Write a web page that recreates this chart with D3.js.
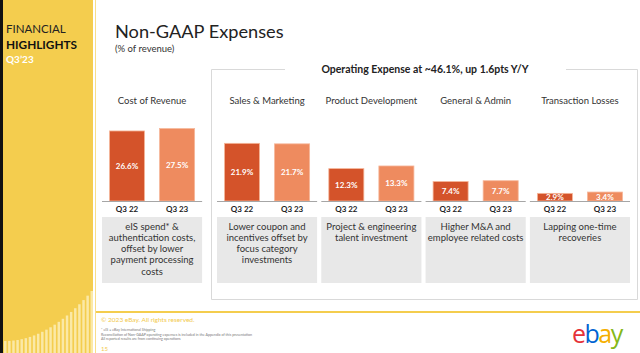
<!DOCTYPE html>
<html>
<head>
<meta charset="utf-8">
<script src="https://cdn.jsdelivr.net/npm/d3@7"></script>
<style>
  html, body { margin: 0; padding: 0; background: #fff; }
  svg { display: block; font-family: Lato, "Open Sans", sans-serif; }
</style>
</head>
<body>
<div class="chart-container"></div>
<script>
const width = 640, height = 353;

// data
const categories = ["Cost of Revenue", "Sales & Marketing", "Product Development", "General & Admin", "Transaction Losses"];
const periods = ["Q3 22", "Q3 23"];
const q322 = [26.6, 21.9, 12.3, 7.4, 2.9];
const q323 = [27.5, 21.7, 13.3, 7.7, 3.4];
const notes = [
    ["eIS spend* &", "authentication costs,", "offset by lower", "payment processing", "costs"],
    ["Lower coupon and", "incentives offset by", "focus category", "investments"],
    ["Project & engineering", "talent investment"],
    ["Higher M&A and", "employee related costs"],
    ["Lapping one-time", "recoveries"]
];
const footnotes = [
    "* eIS = eBay International Shipping",
    "Reconciliation of Non-GAAP operating expenses is included in the Appendix of this presentation",
    "All reported results are from continuing operations"
];

const colors = {"Q3 22": "#d4532a", "Q3 23": "#ee8b5f"};
const yellow = "#f4cd4e";

var svg = d3.select(".chart-container")
    .append("svg")
    .attr("width", width)
    .attr("height", height);

// ---- left sidebar
svg.append("rect").attr("x", 0).attr("y", 0).attr("width", 3).attr("height", height).attr("fill", "#111");
svg.append("rect").attr("x", 3).attr("y", 0).attr("width", 90).attr("height", height).attr("fill", yellow);
svg.append("line").attr("x1", 95.5).attr("x2", 95.5).attr("y1", 0).attr("y2", height)
    .attr("stroke", "#f8de8a").attr("stroke-width", 1);

// decorative stripes at the bottom of the sidebar
var stripes = d3.range(22);
var stripeX = d3.scaleBand().domain(stripes).range([4, 93]).paddingInner(0.4);
var stripeH = d3.scalePow().exponent(2).domain([0, 21]).range([12, 62]);
svg.append("g").selectAll("rect")
    .data(stripes)
    .enter()
    .append("rect")
    .attr("x", d => stripeX(d))
    .attr("width", stripeX.bandwidth())
    .attr("y", d => height - stripeH(d))
    .attr("height", d => stripeH(d))
    .attr("fill", "#fbe9a6");

svg.append("text").attr("x", 6).attr("y", 33).text("FINANCIAL")
    .attr("font-size", 11.5).attr("fill", "#222");
svg.append("text").attr("x", 6).attr("y", 49).text("HIGHLIGHTS")
    .attr("font-size", 11.8).attr("font-weight", "bold").attr("fill", "#111");
svg.append("text").attr("x", 6).attr("y", 63).text("Q3\u201923")
    .attr("font-size", 10).attr("font-weight", "bold").attr("fill", "#fff");

// ---- titles
svg.append("text").attr("x", 115).attr("y", 38).text("Non-GAAP Expenses")
    .attr("font-size", 18.2).attr("fill", "#222");
svg.append("text").attr("x", 115).attr("y", 52).text("(% of revenue)")
    .attr("font-size", 9.5).attr("fill", "#333");

// ---- operating expense frame
var frame = {x0: 211, x1: 637, y0: 69, y1: 299};
var frameG = svg.append("g").attr("fill", "none").attr("stroke", "#d9d9d9").attr("stroke-width", 1);
frameG.append("path")
    .attr("d", `M285,${frame.y0 + .5} H${frame.x0 + .5} V${frame.y1 + .5} H${frame.x1 + .5} V${frame.y0 + .5} H566`);
svg.append("text").attr("x", 425).attr("y", 73).attr("text-anchor", "middle")
    .text("Operating Expense at ~46.1%, up 1.6pts Y/Y")
    .attr("font-size", 10.5).attr("font-weight", "bold").attr("fill", "#222");

// ---- group positions: cost of revenue on its own, opex groups share a band scale
var opex = d3.scaleBand().domain(categories.slice(1)).range([217, 630]).paddingInner(0.04);
var groupW = opex.bandwidth();
function groupX(c) {
    return c === categories[0] ? 102 : opex(c);
}

var inner = d3.scaleBand().domain(periods).range([0, groupW]).paddingInner(0.3).paddingOuter(0.15);
var baseY = 201;
var y = d3.scaleLinear().domain([0, 30]).range([baseY, baseY - 79]);

var rows = categories.map((c, i) => ({cat: c, vals: [q322[i], q323[i]], note: notes[i]}));

var groups = svg.append("g").selectAll("g")
    .data(rows)
    .enter()
    .append("g")
    .attr("transform", d => "translate(" + groupX(d.cat) + ",0)");

groups.append("text")
    .attr("x", groupW / 2).attr("y", 104)
    .attr("text-anchor", "middle")
    .attr("font-size", 9.5).attr("fill", "#333")
    .text(d => d.cat);

var bars = groups.selectAll("g.bar")
    .data(d => d.vals.map((v, j) => ({period: periods[j], value: v})))
    .enter()
    .append("g").attr("class", "bar");

bars.append("rect")
    .attr("x", d => inner(d.period))
    .attr("width", inner.bandwidth())
    .attr("y", d => y(d.value))
    .attr("height", d => baseY - y(d.value))
    .attr("fill", d => colors[d.period])
    .attr("stroke", "#f6b79a").attr("stroke-width", 0.8);

bars.append("text")
    .attr("x", d => inner(d.period) + inner.bandwidth() / 2)
    .attr("y", d => (y(d.value) + baseY) / 2 + 3)
    .attr("text-anchor", "middle")
    .attr("font-size", 8).attr("font-weight", "bold").attr("fill", "#fff")
    .text(d => d.value.toFixed(1) + "%");

// baseline + period labels
groups.append("line")
    .attr("x1", 0).attr("x2", groupW)
    .attr("y1", baseY + .5).attr("y2", baseY + .5)
    .attr("stroke", "#a6a6a6").attr("stroke-width", 1.2);

groups.each(function() {
    var g = d3.select(this);
    var ax = d3.axisBottom(inner).tickSize(0).tickPadding(5);
    var a = g.append("g").attr("transform", "translate(0," + baseY + ")").call(ax);
    a.select(".domain").remove();
    a.selectAll("text").attr("font-size", 8).attr("font-weight", "bold")
        .attr("fill", "#222").attr("font-family", "Lato, sans-serif");
});

// grey note boxes
groups.append("rect")
    .attr("x", 0).attr("y", 217)
    .attr("width", groupW).attr("height", 66)
    .attr("fill", "#e8e8e8");

groups.append("text")
    .attr("text-anchor", "middle")
    .attr("font-size", 9.5).attr("fill", "#333")
    .selectAll("tspan")
    .data(d => d.note)
    .enter()
    .append("tspan")
    .attr("x", groupW / 2)
    .attr("y", (d, i) => 229.5 + i * 11.3)
    .text(d => d);

// ---- footer
svg.append("line").attr("x1", 96).attr("x2", width).attr("y1", 312).attr("y2", 312)
    .attr("stroke", yellow).attr("stroke-width", 2);
svg.append("text").attr("x", 101).attr("y", 322).text("\u00a9 2023 eBay. All rights reserved.")
    .attr("font-size", 6.5).attr("fill", "#f2c94c");
svg.append("g").selectAll("text")
    .data(footnotes)
    .enter()
    .append("text")
    .attr("x", 101).attr("y", (d, i) => 331 + i * 4.6)
    .attr("font-size", 3.6).attr("fill", "#777")
    .text(d => d);
svg.append("text").attr("x", 101).attr("y", 351).text("15")
    .attr("font-size", 6).attr("fill", "#f2c94c");

// ebay logo
var logo = svg.append("text").attr("x", 572).attr("y", 343)
    .attr("font-size", 25).attr("letter-spacing", -1.5)
    .attr("font-family", "'Open Sans', sans-serif");
[["e", "#e53238"], ["b", "#0064d2"], ["a", "#f5af02"], ["y", "#86b817"]].forEach(p => {
    logo.append("tspan").attr("fill", p[1]).text(p[0]);
});
</script>
</body>
</html>
